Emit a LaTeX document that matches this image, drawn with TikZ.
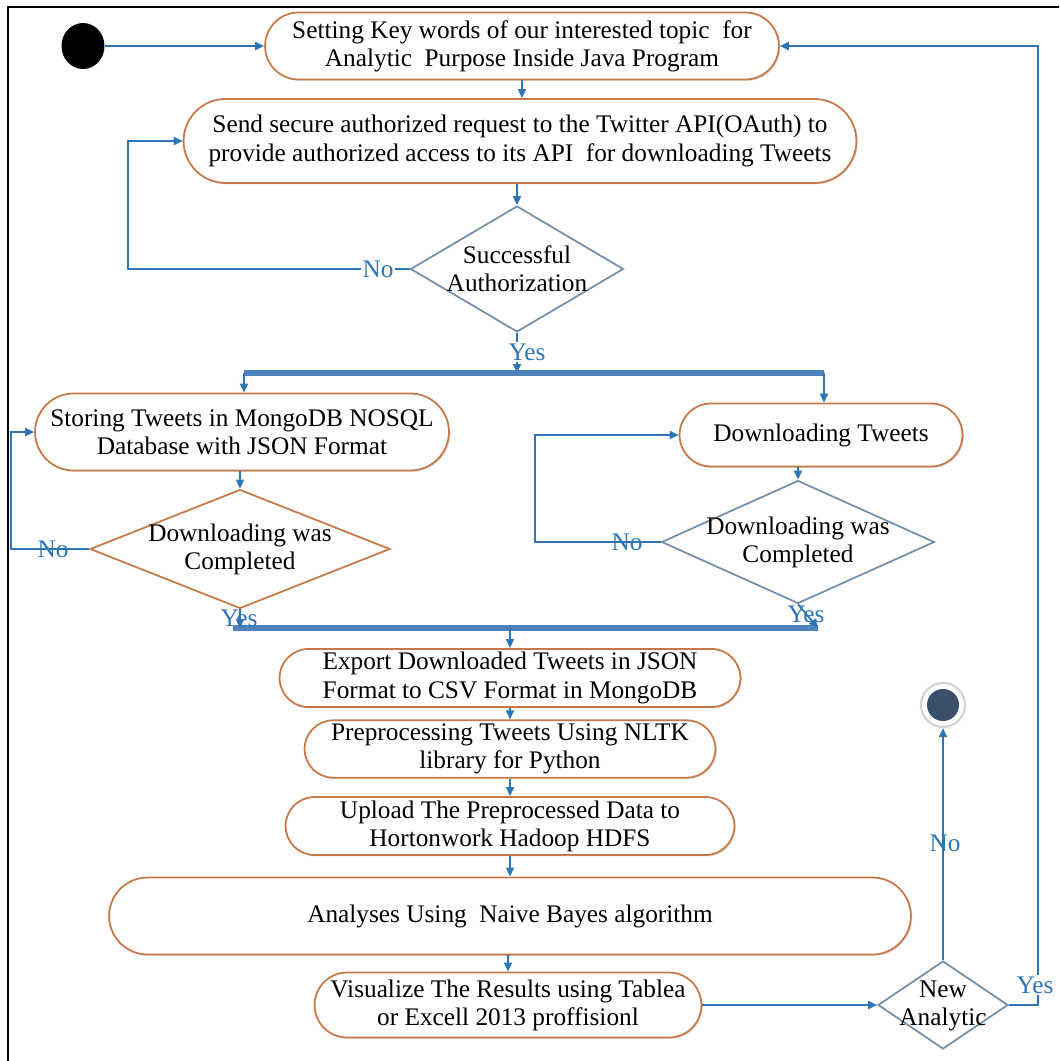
\documentclass[tikz,border=0pt]{standalone}
\usepackage{fontspec}
\setmainfont{Liberation Serif}
\usepackage{tikz}
\usetikzlibrary{shapes.geometric,shapes.misc,arrows.meta,shadows}
\definecolor{boxline}{RGB}{197,120,72}
\definecolor{flowblue}{RGB}{46,117,182}
\definecolor{barblue}{RGB}{79,129,189}
\definecolor{diagray}{RGB}{118,143,168}
\definecolor{endfill}{RGB}{59,78,107}

\begin{document}
\begin{tikzpicture}[x=0.02cm, y=-0.02cm,
  every node/.style={font=\fontsize{14.4pt}{16pt}\selectfont},
  act/.style={rounded rectangle, draw=boxline, line width=1pt, fill=white, align=center, inner sep=2pt,
    drop shadow={shadow xshift=0.8pt, shadow yshift=-0.8pt, opacity=0.25, fill=gray}},
  dec/.style={diamond, draw=diagray, line width=1pt, fill=white, inner sep=0pt},
  conn/.style={draw=flowblue, line width=1pt, -{Triangle[length=1.8mm,width=1.6mm]}},
  bar/.style={draw=barblue, line width=3.4pt},
  lbl/.style={text=flowblue, inner sep=1pt}]
\useasboundingbox (0,0) rectangle (1059,1061);
\draw[line width=1.6pt] (8,1061) -- (8,7) -- (1059,7);

% upper part
\node[ellipse, fill=black, minimum width=0.86cm, minimum height=0.92cm, inner sep=0pt] (start) at (83,46) {};
\node[act, minimum width=10.42cm, minimum height=1.34cm] (b1) at (522,46)
  {Setting Key words of our interested topic \ for\\Analytic \ Purpose Inside Java Program};
\node[act, minimum width=13.6cm, minimum height=1.68cm] (b2) at (520,141)
  {Send secure authorized request to the Twitter API(OAuth) to\\provide authorized access to its API \ for downloading Tweets};
\node[dec, minimum width=4.26cm, minimum height=2.52cm] (d1) at (517,269) {};
\node[align=center] (d1txt) at (d1) {Successful\\Authorization};

\draw[conn] (start) -- (b1.west);
\draw[conn] (b1.south) -- (b1.south |- b2.north);
\draw[conn] (b2.south -| d1.north) -- (d1.north);
\draw[conn] (d1.west) -- (128,269) |- (b2.west);
\node[lbl, fill=white] (no1) at (378,269) {No};

% fork
\coordinate (fork1w) at (244,373);
\coordinate (fork1e) at (824,373);
\draw[conn] (d1.south) -- (d1.south |- fork1w);
\node[lbl, fill=white] (yes1) at (527,352) {Yes};
\draw[bar] (fork1w) -- (fork1e);

\node[act, minimum width=8.42cm, minimum height=1.54cm] (b3) at (242,432)
  {Storing Tweets in MongoDB NOSQL\\Database with JSON Format};
\node[act, minimum width=5.8cm, minimum height=1.26cm] (b4) at (821,435) {Downloading Tweets};
\draw[conn] (fork1w) -- (fork1w |- b3.north);
\draw[conn] (fork1e) -- (fork1e |- b4.north);

\node[dec, draw=boxline, minimum width=6cm, minimum height=2.38cm] (d2) at (240,549) {};
\node[align=center] (d2txt) at (d2) {Downloading was\\Completed};
\node[dec, minimum width=5.46cm, minimum height=2.46cm] (d3) at (798,542) {};
\node[align=center] (d3txt) at (d3) {Downloading was\\Completed};

\draw[conn] (b3.south -| d2.north) -- (d2.north);
\draw[conn] (b4.south -| d3.north) -- (d3.north);
\draw[conn] (d2.west) -- (11,549) |- (b3.west);
\node[lbl] (no2) at (53,549) {No};
\draw[conn] (d3.west) -- (535,542) |- (b4.west);
\node[lbl] (no3) at (627,542) {No};

% join
\coordinate (join2w) at (233,628);
\coordinate (join2e) at (818,628);
\coordinate (join2m) at (510,628);
\draw[bar] (join2w) -- (join2e);
\draw[conn] (d2.south) -- (d2.south |- join2w);
\draw[conn] (d3.south) -- (join2e);
\node[lbl] (yes2) at (239,618) {Yes};
\node[lbl] (yes3) at (806,614) {Yes};

% lower part
\node[act, minimum width=9.36cm, minimum height=1.08cm] (b5) at (510,678)
  {Export Downloaded Tweets in JSON\\Format to CSV Format in MongoDB};
\node[act, minimum width=8.36cm, minimum height=1.08cm] (b6) at (510,749)
  {Preprocessing Tweets Using NLTK\\library for Python};
\node[act, minimum width=9.12cm, minimum height=1.06cm] (b7) at (510,826)
  {Upload The Preprocessed Data to\\Hortonwork Hadoop HDFS};
\node[act, minimum width=16.18cm, minimum height=1.54cm] (b8) at (510,916)
  {Analyses Using \ Naive Bayes algorithm};
\node[act, minimum width=7.6cm, minimum height=1.3cm] (b9) at (508,1005)
  {Visualize The Results using Tablea\\or Excell 2013 proffisionl};
\node[dec, minimum width=2.6cm, minimum height=1.76cm] (d4) at (943,1005) {};
\node[align=center] (d4txt) at (943,1006) {New\\Analytic};
\node[circle, draw=gray!35, line width=1.2pt, fill=white, minimum size=0.88cm, inner sep=0pt] (stop) at (943,705) {};
\fill[endfill] (stop.center) circle (0.32cm);

\draw[conn] (join2m) -- (join2m |- b5.north);
\draw[conn] (b5.south) -- (b6.north);
\draw[conn] (b6.south) -- (b7.north);
\draw[conn] (b7.south) -- (b8.north);
\draw[conn] (b8.south) -- (b8.south -| b9.north) -- (b9.north);
\draw[conn] (b9.east) -- (d4.west);
\draw[conn] (d4.north) -- (stop.south);
\node[lbl] (no4) at (945,843) {No};
\draw[conn] (d4.east) -- (1038,1005) -- (1038,46) -- (b1.east);
\node[lbl, fill=white] (yes4) at (1035,985) {Yes};
\end{tikzpicture}
\end{document}
